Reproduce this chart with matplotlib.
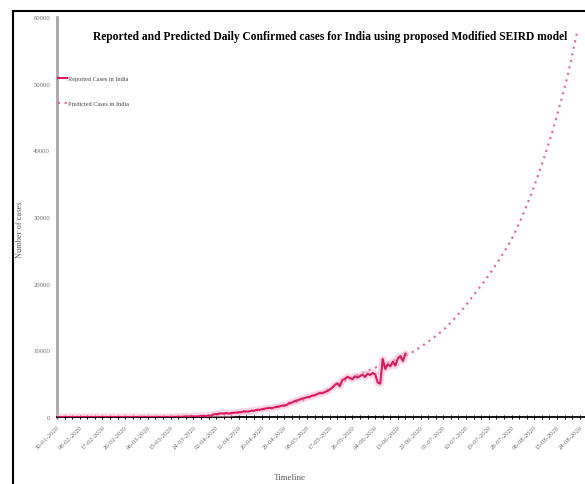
import numpy as np
import matplotlib
matplotlib.use("Agg")
import matplotlib.pyplot as plt
from matplotlib.patches import Rectangle

# daily reported cases, one value per day starting 30-01-2020
reported = [
    1, 0, 0, 1, 1, 0, 0, 0, 0, 0,
    0, 0, 0, 0, 0, 0, 0, 0, 0, 0,
    0, 0, 0, 0, 0, 0, 0, 0, 0, 0,
    0, 0, 2, 1, 22, 2, 1, 3, 5, 9,
    15, 8, 10, 10, 11, 26, 14, 15, 28, 23,
    59, 78, 69, 104, 74, 86, 88, 160, 163, 113,
    227, 146, 401, 445, 478, 553, 512, 604, 508, 585,
    620, 668, 718, 705, 863, 818, 826, 961, 922, 1071,
    1080, 1139, 1237, 1292, 1367, 1308, 1435, 1507, 1568, 1702,
    1705, 1801, 2096, 2164, 2356, 2471, 2602, 2744, 2839, 2975,
    3011, 3192, 3262, 3425, 3591, 3562, 3726, 3891, 4108, 4394,
    4794, 5050, 4628, 5554, 5720, 6023, 5836, 5665, 6111, 5914,
    6150, 6350, 6000, 6500, 6300, 6600, 6400, 5200, 5000, 8700,
    7200, 7900, 7600, 8300, 7700, 8800, 9150, 8400, 9500,
]

# model output, one value per day starting 30-01-2020
predicted = [
    1, 1, 1, 1, 1, 1, 1, 1, 1, 1,
    1, 1, 1, 1, 1, 1, 1, 1, 1, 1,
    1, 1, 1, 1, 1, 1, 1, 1, 1, 1,
    1, 1, 2, 2, 3, 3, 4, 5, 6, 7,
    8, 10, 12, 14, 17, 20, 24, 29, 34, 40,
    47, 55, 64, 74, 86, 99, 113, 129, 147, 166,
    187, 210, 235, 262, 291, 322, 355, 390, 428, 468,
    510, 554, 600, 648, 698, 750, 804, 860, 918, 978,
    1040, 1104, 1170, 1238, 1308, 1380, 1455, 1532, 1612, 1694,
    1778, 1865, 1954, 2046, 2140, 2237, 2336, 2438, 2542, 2649,
    3000, 3140, 3285, 3435, 3590, 3750, 3915, 4085, 4260, 4440,
    4625, 4815, 5005, 5195, 5385, 5575, 5765, 5950, 6130, 6305,
    6475, 6640, 6800, 6955, 7105, 7250, 7395, 7540, 7685, 7830,
    7975, 8120, 8265, 8410, 8555, 8700, 8860, 9030, 9205, 9390,
    9550, 9782, 10020, 10263, 10513, 10768, 11030, 11298, 11572, 11854,
    12142, 12437, 12739, 13049, 13420, 13801, 14193, 14596, 15010, 15436,
    15875, 16326, 16789, 17266, 17756, 18260, 18779, 19254, 19741, 20241,
    20753, 21278, 21816, 22368, 22934, 23514, 24109, 24719, 25345, 25986,
    26643, 27426, 28233, 29063, 29917, 30797, 31702, 32653, 33633, 34642,
    35681, 36751, 37854, 38990, 40159, 41364, 42605, 43883, 45200, 46556,
    47952, 49391, 50873, 52526, 54233, 55996, 57816,
]

# date labels on the x axis, one every 9 days
date_labels = [
    "30-01-2020", "08-02-2020", "17-02-2020", "26-02-2020", "06-03-2020",
    "15-03-2020", "24-03-2020", "02-04-2020", "11-04-2020", "20-04-2020",
    "29-04-2020", "08-05-2020", "17-05-2020", "26-05-2020", "04-06-2020",
    "13-06-2020", "22-06-2020", "01-07-2020", "10-07-2020", "19-07-2020",
    "28-07-2020", "06-08-2020", "15-08-2020", "24-08-2020",
]
y_ticks = [0, 10000, 20000, 30000, 40000, 50000, 60000]

plt.rcParams["font.family"] = ["Liberation Serif", "DejaVu Serif"]

fig = plt.figure(figsize=(5.85, 4.85), dpi=100)
ax = fig.add_axes([57 / 585, 67 / 485, (610 - 57) / 585, 400 / 485])

days_rep = np.arange(len(reported))
days_pred = np.arange(len(predicted))

ax.plot(days_pred, predicted, color="#E8628F", lw=1.5, ls=(0, (1, 2.2)),
        zorder=2, label="Predicted Cases in India")
ax.plot(days_rep, reported, color="#F7B3CF", lw=5, alpha=0.55, zorder=3,
        solid_capstyle="round")
ax.plot(days_rep, reported, color="#D81B60", lw=1.5, zorder=4,
        label="Reported Cases in India")

ax.set_xlim(0, (610 - 57) / 2.55)
ax.set_ylim(0, 60000)

tick_pos = np.arange(len(date_labels)) * 9
ax.set_xticks(tick_pos)
ax.set_xticklabels(date_labels, rotation=45, ha="right", va="top",
                   fontsize=4.8, color="#6b6b6b", rotation_mode="anchor")
ax.set_xticks(np.arange(0, 220, 3), minor=True)
ax.tick_params(axis="x", which="both", direction="inout", length=2.5,
               width=0.7, pad=4)
ax.set_yticks(y_ticks)
ax.set_yticklabels([str(v) for v in y_ticks], fontsize=4.8, color="#6b6b6b")
ax.tick_params(axis="y", length=0, pad=5)

for s in ("top", "right"):
    ax.spines[s].set_visible(False)
ax.spines["left"].set_color("#A6A6A6")
ax.spines["left"].set_linewidth(2)
ax.spines["bottom"].set_color("black")
ax.spines["bottom"].set_linewidth(1.3)

ax.set_ylabel("Number of cases", fontsize=6, color="#595959")
ax.yaxis.set_label_coords(-33 / 553, 0.47)
fig.text(290 / 585, 1 - 478 / 485, "Timeline", fontsize=6.5,
         color="#595959", ha="center", va="center")

fig.text(330 / 585, 1 - 37 / 485,
         "Reported and Predicted Daily Confirmed cases for India using proposed Modified SEIRD model",
         fontsize=8.3, fontweight="bold", ha="center", va="center")

handles, labels = ax.get_legend_handles_labels()
leg = ax.legend(handles[::-1], labels[::-1], loc="upper left",
                bbox_to_anchor=(-0.002, 0.86), frameon=False, fontsize=4.5,
                handlelength=1.3, handletextpad=0.2, labelspacing=3.2,
                borderaxespad=0)
for t in leg.get_texts():
    t.set_color("#404040")

fig.add_artist(Rectangle((13 / 585, -0.2), 1.5, 1.2 + (485 - 12) / 485 - 1.0,
                         transform=fig.transFigure, fill=False,
                         edgecolor="black", lw=1.5))

fig.savefig("out.png", dpi=100)
